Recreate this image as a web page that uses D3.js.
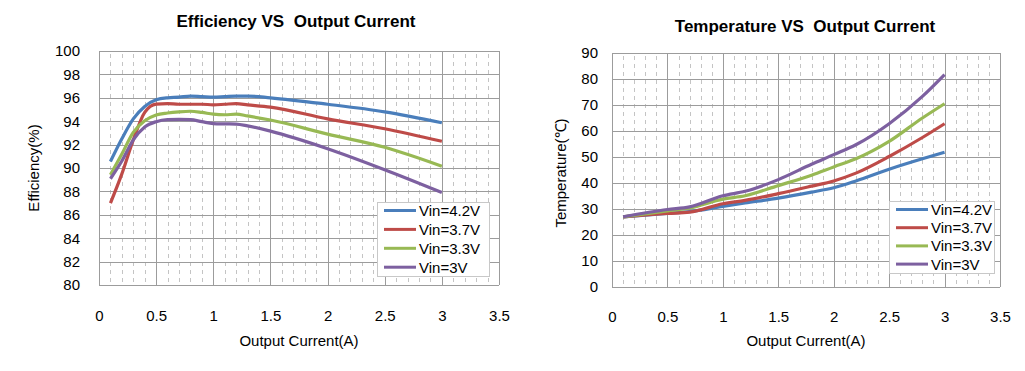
<!DOCTYPE html>
<html>
<head>
<meta charset="utf-8">
<script src="https://cdn.jsdelivr.net/npm/d3@7"></script>
<style>
  body { margin: 0; background: #fff; }
  svg text { font-family: "Liberation Sans", Arial, sans-serif; fill: #000; }
</style>
</head>
<body>
<div id="chart"></div>
<script>
// ---- data ----
var seriesNames = ['Vin=4.2V', 'Vin=3.7V', 'Vin=3.3V', 'Vin=3V'];
var seriesColors = ['#4a7ebb', '#be4b48', '#98b954', '#7d60a0'];

var effCurrent = [0.1, 0.2, 0.3, 0.4, 0.5, 0.6, 0.7, 0.8, 0.9, 1.0, 1.1, 1.2, 1.3, 1.5, 2.0, 2.5, 3.0];
var eff42 = [90.55, 92.5, 94.2, 95.26, 95.83, 96.0, 96.05, 96.15, 96.1, 96.05, 96.1, 96.15, 96.15, 96.0, 95.45, 94.8, 93.87];
var eff37 = [87.0, 89.5, 92.4, 94.75, 95.46, 95.5, 95.45, 95.45, 95.45, 95.4, 95.45, 95.5, 95.4, 95.2, 94.2, 93.35, 92.28];
var eff33 = [89.42, 91.2, 93.05, 94.04, 94.53, 94.7, 94.8, 94.85, 94.75, 94.6, 94.55, 94.6, 94.45, 94.1, 92.9, 91.77, 90.15];
var eff30 = [89.08, 90.6, 92.4, 93.5, 93.96, 94.13, 94.15, 94.13, 93.96, 93.8, 93.77, 93.75, 93.6, 93.15, 91.65, 89.85, 87.9];

var tempCurrent = [0.1, 0.5, 0.7, 1.0, 1.2, 1.5, 1.8, 2.0, 2.2, 2.5, 2.8, 3.0];
var temp42 = [27, 28.3, 29.0, 31.0, 32.3, 34.2, 36.5, 38.2, 40.8, 45.3, 49.3, 51.8];
var temp37 = [27, 28.3, 28.8, 32.0, 33.3, 35.9, 38.8, 40.8, 43.8, 50.2, 57.5, 62.8];
var temp33 = [27, 29.3, 30.4, 33.8, 35.1, 39.0, 43.0, 46.2, 49.3, 56.0, 65.0, 70.5];
var temp30 = [27, 29.8, 30.8, 35.1, 36.8, 41.3, 47.2, 50.9, 54.7, 62.8, 73.3, 81.7];

var xTicks = [0, 0.5, 1, 1.5, 2, 2.5, 3, 3.5];
var effTicks = [80, 82, 84, 86, 88, 90, 92, 94, 96, 98, 100];
var tempTicks = [0, 10, 20, 30, 40, 50, 60, 70, 80, 90];

var width = 1025, height = 371;
var svg = d3.select('#chart').append('svg')
    .attr('width', width)
    .attr('height', height);

function drawChart(cfg) {
    var g = svg.append('g');
    var x = d3.scaleLinear().domain([0, 3.5]).range([cfg.left, cfg.right]);
    var y = d3.scaleLinear().domain(cfg.yDomain).range([cfg.bottom, cfg.top]);

    // minor dashed verticals every 0.1
    var minor = d3.range(1, 35).map(function(i) { return i / 10; })
        .filter(function(d) { return Math.round(d * 10) % 5 !== 0; });
    g.append('g').selectAll('line').data(minor).enter().append('line')
        .attr('x1', function(d) { return Math.round(x(d)) + 0.5; })
        .attr('x2', function(d) { return Math.round(x(d)) + 0.5; })
        .attr('y1', cfg.top + 3)
        .attr('y2', cfg.bottom)
        .attr('stroke', '#c4c4c4')
        .attr('stroke-width', 1)
        .attr('stroke-dasharray', '4,4');

    // major gridlines
    g.append('g').selectAll('line').data(cfg.yTicks).enter().append('line')
        .attr('x1', cfg.left).attr('x2', cfg.right)
        .attr('y1', function(d) { return Math.round(y(d)) + 0.5; })
        .attr('y2', function(d) { return Math.round(y(d)) + 0.5; })
        .attr('stroke', '#9c9c9c');
    g.append('g').selectAll('line').data(xTicks).enter().append('line')
        .attr('x1', function(d) { return Math.round(x(d)) + 0.5; })
        .attr('x2', function(d) { return Math.round(x(d)) + 0.5; })
        .attr('y1', cfg.top).attr('y2', cfg.bottom)
        .attr('stroke', '#9c9c9c');

    // axes (labels only, lines come from grid)
    var yAxis = g.append('g')
        .attr('transform', 'translate(' + cfg.yLabelX + ',0)')
        .call(d3.axisLeft(y).tickValues(cfg.yTicks).tickSize(0).tickPadding(0));
    yAxis.select('.domain').remove();
    yAxis.selectAll('text').attr('font-size', 15).attr('font-family', null);

    var xAxis = g.append('g')
        .attr('transform', 'translate(0,' + cfg.xLabelY + ')')
        .call(d3.axisBottom(x).tickValues(xTicks).tickSize(0).tickPadding(0).tickFormat(d3.format('')));
    xAxis.select('.domain').remove();
    xAxis.selectAll('text').attr('font-size', 15).attr('font-family', null);

    // series
    var line = d3.line()
        .x(function(d) { return x(d[0]); })
        .y(function(d) { return y(d[1]); })
        .curve(d3.curveMonotoneX);
    cfg.series.forEach(function(vals, i) {
        var pts = cfg.xs.map(function(v, j) { return [v, vals[j]]; });
        g.append('path')
            .datum(pts)
            .attr('d', line)
            .attr('fill', 'none')
            .attr('stroke', seriesColors[i])
            .attr('stroke-width', 3.2)
            .attr('stroke-linejoin', 'round');
    });

    // legend
    var lg = g.append('g');
    lg.append('rect')
        .attr('x', cfg.legend[0] + 0.5).attr('y', cfg.legend[1] + 0.5)
        .attr('width', cfg.legend[2]).attr('height', cfg.legend[3])
        .attr('fill', '#fff').attr('stroke', '#c8c8c8');
    seriesNames.forEach(function(name, i) {
        var ly = cfg.legend[1] + 8.5 + i * cfg.legendStep;
        lg.append('line')
            .attr('x1', cfg.legend[0] + 7).attr('x2', cfg.legend[0] + 39)
            .attr('y1', ly).attr('y2', ly)
            .attr('stroke', seriesColors[i]).attr('stroke-width', 3);
        lg.append('text')
            .attr('x', cfg.legend[0] + 42).attr('y', ly + 5.5)
            .attr('font-size', 15)
            .text(name);
    });

    // titles
    g.append('text')
        .attr('x', cfg.titleX).attr('y', cfg.titleY)
        .attr('text-anchor', 'middle')
        .attr('font-size', 17).attr('font-weight', 'bold')
        .style('white-space', 'pre')
        .text(cfg.title);
    g.append('text')
        .attr('x', (cfg.left + cfg.right) / 2).attr('y', 345.5)
        .attr('text-anchor', 'middle')
        .attr('font-size', 15)
        .text('Output Current(A)');
    g.append('text')
        .attr('transform', 'translate(' + cfg.yTitleX + ',' + cfg.yTitleY + ') rotate(-90)')
        .attr('text-anchor', 'middle')
        .attr('font-size', 15)
        .text(cfg.yTitle);
}

drawChart({
    left: 99, right: 499, top: 51, bottom: 285,
    yDomain: [80, 100], yTicks: effTicks,
    yLabelX: 80, xLabelY: 310,
    xs: effCurrent, series: [eff42, eff37, eff33, eff30],
    legend: [377, 202, 112, 74], legendStep: 18.9,
    title: 'Efficiency VS  Output Current', titleX: 296, titleY: 27,
    yTitle: 'Efficiency(%)', yTitleX: 38.5, yTitleY: 168
});

drawChart({
    left: 612, right: 1000, top: 53, bottom: 287,
    yDomain: [0, 90], yTicks: tempTicks,
    yLabelX: 598, xLabelY: 311,
    xs: tempCurrent, series: [temp42, temp37, temp33, temp30],
    legend: [889, 201, 105, 72], legendStep: 18.2,
    title: 'Temperature VS  Output Current', titleX: 805, titleY: 32,
    yTitle: 'Temperature(℃)', yTitleX: 565.5, yTitleY: 173
});
</script>
</body>
</html>
